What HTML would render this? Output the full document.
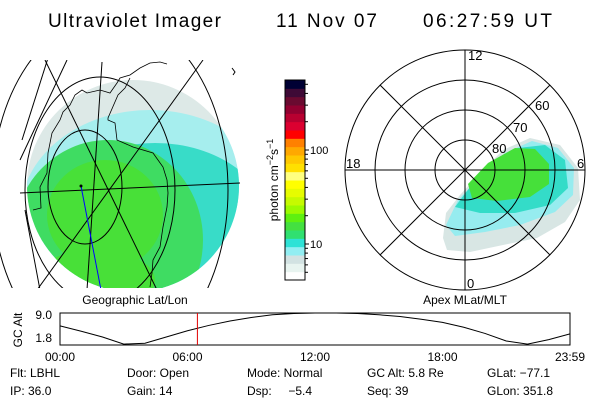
<!DOCTYPE html>
<html><head><meta charset="utf-8"><style>
body{margin:0;background:#fff}
svg{display:block;font-family:"Liberation Sans",sans-serif}
</style></head><body>
<svg id="s" width="600" height="400" viewBox="0 0 600 400">
<defs>
<clipPath id="gc"><circle cx="133" cy="186" r="106"/></clipPath>
<clipPath id="gb"><rect x="0" y="60" width="250" height="228"/></clipPath>
<clipPath id="pc"><circle cx="465" cy="170" r="120"/></clipPath>
</defs>
<g font-size="19">
<text x="48" y="27" textLength="173">Ultraviolet Imager</text>
<text x="276" y="27" textLength="101">11 Nov 07</text>
<text x="423" y="27" textLength="129">06:27:59 UT</text>
</g>

<g clip-path="url(#gb)">
<g clip-path="url(#gc)">
<rect x="20" y="70" width="230" height="230" fill="#dde9e7"/>
<ellipse cx="150" cy="215" rx="130" ry="105" fill="#a6eeee"/>
<ellipse cx="155" cy="228" rx="115" ry="85" fill="#38dcc8"/>
<ellipse cx="108" cy="240" rx="95" ry="100" fill="#3fdc62"/>
<ellipse cx="105" cy="215" rx="58" ry="55" fill="#48e038"/>
<ellipse cx="95" cy="280" rx="60" ry="30" fill="#48e038"/>
</g>
<g fill="none" stroke="#000" stroke-width="1">
<ellipse cx="85" cy="187" rx="37" ry="57"/>
<ellipse cx="100" cy="190" rx="75" ry="113"/>
<ellipse cx="110" cy="190" rx="118" ry="175"/>
<line x1="20" y1="193" x2="240" y2="183"/>
<line x1="203" y1="60" x2="37" y2="290"/>
<line x1="102" y1="62" x2="87" y2="290"/>
<line x1="45" y1="60" x2="157" y2="290"/>
<line x1="67" y1="60" x2="20" y2="160"/>
<line x1="48" y1="58" x2="22" y2="140"/>
<line x1="25" y1="210" x2="40" y2="290"/>
</g>
<line x1="81" y1="186" x2="101" y2="290" stroke="#0000ff"/>
<circle cx="81" cy="186" r="1.5" fill="#000"/>
<path fill="none" stroke="#000" stroke-width="0.8"
d="M33,210 L41,208 L40,187 L47,173 L48,153 L52,133 L60,120 L63,112 L70,105 L75,95 L82,90 L87,93 L100,90 L110,93 L117,83 L120,78 L130,75 L140,68 L150,63 L160,62 L167,64 M130,78 L125,88 L118,95 L108,118 L108,120 L115,123 L117,140 L133,147 L153,153 L163,167 L167,180 L168,193 L167,207 L163,227 L160,247 L153,260 L152,273 L150,287"/>
<path d="M232,68 l3,4 l-2,3" fill="none" stroke="#000"/>
</g>
<text x="135" y="304" font-size="12" text-anchor="middle">Geographic Lat/Lon</text>

<g id="cbar"></g>
<text transform="translate(278,180) rotate(-90)" font-size="12" text-anchor="middle">photon cm<tspan dy="-5" font-size="9">−2</tspan><tspan dy="5">s</tspan><tspan dy="-5" font-size="9">−1</tspan></text>

<g>
<g clip-path="url(#pc)">
<path fill="#d8e6e4" d="M443,238 L446,213 L460,195 L480,173 L503,150 L530,138 L560,145 L578,168 L580,200 L565,222 L537,238 L503,245 L470,252 L447,250Z"/>
<path fill="#96ecef" d="M446,225 L458,200 L480,177 L505,153 L532,141 L558,148 L574,168 L573,195 L555,212 L520,225 L485,232 L455,236Z"/>
<path fill="#34dcc8" d="M455,207 L470,187 L492,165 L518,148 L545,145 L565,160 L568,188 L550,205 L515,213 L480,213Z"/>
<path fill="#46e03a" d="M468,184 L488,163 L515,148 L535,149 L549,164 L549,184 L530,197 L497,201 L472,198Z"/>
</g>
<g fill="none" stroke="#000">
<circle cx="465" cy="170" r="30"/><circle cx="465" cy="170" r="60"/>
<circle cx="465" cy="170" r="90"/><circle cx="465" cy="170" r="120"/>
<line x1="345" y1="170" x2="585" y2="170"/><line x1="465" y1="50" x2="465" y2="290"/>
<line x1="380" y1="85" x2="550" y2="255"/><line x1="380" y1="255" x2="550" y2="85"/>
</g>
<g font-size="13">
<text x="468" y="60">12</text><text x="467" y="288">0</text>
<text x="346" y="168">18</text><text x="577" y="168">6</text>
<text x="492" y="153">80</text><text x="513" y="132">70</text><text x="535" y="110">60</text>
</g>
</g>
<text x="465" y="304" font-size="12" text-anchor="middle">Apex MLat/MLT</text>

<g id="alt"></g>
<text transform="translate(22,330) rotate(-90)" font-size="12" text-anchor="middle">GC Alt</text>

<g font-size="12">
<text x="10" y="377">Flt: LBHL</text><text x="127" y="377">Door: Open</text><text x="247" y="377">Mode: Normal</text><text x="367" y="377">GC Alt: 5.8 Re</text><text x="487" y="377">GLat: −77.1</text>
<text x="10" y="395">IP: 36.0</text><text x="127" y="395">Gain: 14</text><text x="247" y="395" xml:space="preserve">Dsp:     −5.4</text><text x="367" y="395">Seq: 39</text><text x="487" y="395">GLon: 351.8</text>
</g>
</svg>
<script>
const NS="http://www.w3.org/2000/svg";
const cbColors=["#ffffff","#e8f4f0","#d2e2e2","#92eef2","#2ee2d6","#30e070","#44e040","#5ef010","#9cfa00","#c6fa00","#e6fc00","#ffff00","#ffff80","#ffe000","#ffc800","#ffa800","#ff8000","#ff0000","#dc0030","#b80030","#920030","#6a0a30","#3e0a36","#000034"];
const cbMajorTicks=[10,100];
const cbMinorTicks=[5,6,7,8,9,20,30,40,50,60,70,80,90,200,300,400,500];
const altHours=[0,1,2,3,4,5,6,7,8,9,10,11,12,13,14,15,16,17,18,19,20,21,22,23,24];
const altValues=[6.1,4.9,3.6,2.0,2.2,3.6,5.0,6.2,7.2,8.0,8.6,8.9,9.0,9.0,8.9,8.6,8.2,7.6,6.9,5.8,4.4,2.7,2.0,3.0,4.3];
const altTickLabels=["00:00","06:00","12:00","18:00","23:59"];
const altTickHours=[0,6,12,18,24];
const altYLabels=["9.0","1.8"];
const altYValues=[9.0,1.8];
const currentHour=6.466;

function mk(t,a,p){const e=document.createElementNS(NS,t);for(const k in a)e.setAttribute(k,a[k]);p.appendChild(e);return e;}
const cb=document.getElementById('cbar');
const cbTop=80,cbBot=280,cbX=285,cbW=20;
const bandH=(cbBot-cbTop)/cbColors.length;
cbColors.forEach((c,i)=>{
 const r=mk('rect',{x:cbX,y:cbBot-(i+1)*bandH,width:cbW,height:bandH+0.5,fill:c},cb);
 
 
});
mk('rect',{x:cbX,y:cbTop,width:cbW,height:cbBot-cbTop,fill:'none',stroke:'#000'},cb);
const cbY=v=>244-(Math.log10(v)-1)*94;
cbMajorTicks.forEach(v=>{
 mk('line',{x1:cbX+cbW,x2:cbX+cbW+4,y1:cbY(v),y2:cbY(v),stroke:'#000'},cb);
 const t=mk('text',{x:cbX+cbW+5,y:cbY(v)+4,'font-size':11},cb);t.textContent=String(v);
 
 
});
cbMinorTicks.forEach(v=>{const y=cbY(v);if(y<cbTop||y>cbBot)return;mk('line',{x1:cbX+cbW,x2:cbX+cbW+3,y1:y,y2:y,stroke:'#000'},cb);});
const g=document.getElementById('alt');
const L=60,R=570,T=313,B=345;
const xs=h=>L+(R-L)*h/24, ys=v=>B-(v-1.8)/(9.0-1.8)*(B-T);
mk('rect',{x:L,y:T,width:R-L,height:B-T,fill:'none',stroke:'#000'},g);
const ln=mk('polyline',{points:altHours.map((h,i)=>xs(h)+','+ys(altValues[i])).join(' '),fill:'none',stroke:'#000'},g);


const cur=mk('line',{x1:xs(currentHour),x2:xs(currentHour),y1:T,y2:B,stroke:'#e00000'},g);


altTickLabels.forEach((l,i)=>{
 const t=mk('text',{x:xs(altTickHours[i]),y:361,'font-size':12,'text-anchor':'middle'},g);t.textContent=l;
 
 
});
altYValues.forEach((v,i)=>{
 const y=Math.min(Math.max(ys(v)+4,T+6),B-3);
 const t=mk('text',{x:52,y:y,'font-size':12,'text-anchor':'end'},g);t.textContent=altYLabels[i];
 
 
});
</script>
</body></html>
